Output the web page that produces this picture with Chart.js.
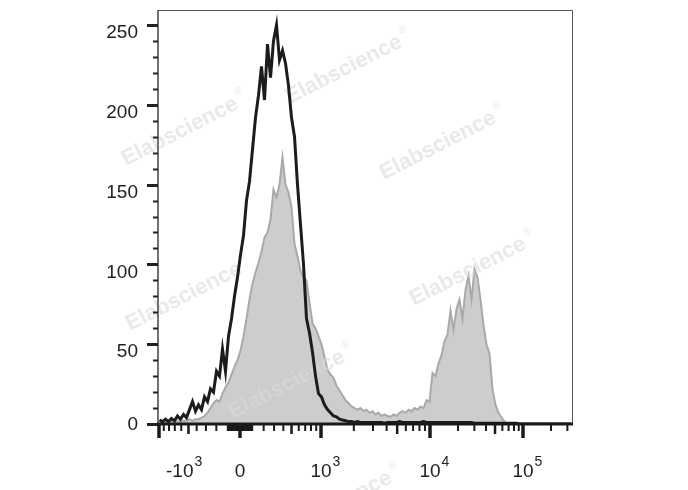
<!DOCTYPE html>
<html>
<head>
<meta charset="utf-8">
<script src="https://cdn.jsdelivr.net/npm/chart.js@4.4.1/dist/chart.umd.min.js"></script>
<style>
    html, body { margin: 0; padding: 0; background: #ffffff; }
    canvas { display: block; }
</style>
</head>
<body>
<canvas id="histogram" width="688" height="490"></canvas>
<script>
// Histogram bins: each bin is 3 display channels wide, channel 0 = left edge of the plot
const binWidth = 3;

// Unstained / isotype control (black outline)
const controlCounts = [
    2.5, 1.5, 3, 1.5, 3.5, 2, 5, 3, 6, 4,
    9, 14, 8, 12, 9, 17, 14, 22, 20, 33,
    30, 47, 33, 55, 66, 80, 92, 106, 118, 140,
    152, 172, 192, 206, 224, 203, 238, 217, 240, 250,
    228, 234, 226, 212, 192, 180, 150, 125, 100, 66,
    57, 45, 30, 19, 17, 12, 9, 7, 5, 4.5,
    3, 2.5, 2, 1.5, 1.5, 1, 1.5, 1, 1, 1,
    1, 1, 1, 1, 1, 0.5, 1, 1, 1, 1,
    1.5, 1, 1, 1, 1, 1, 1, 1, 1.5, 1,
    1, 1, 1, 1, 1, 1, 1, 1, 1, 1,
    1, 1, 1, 1, 1, 0.5, 0.5, 0.5, 0.5, 0.5,
    0.5, 0.5, 0.5, 0.5, 0.5, 0.5, 0.5, 0.5, 0.5, 0.5,
    0, 0, 0, 0, 0, 0, 0, 0, 0, 0,
    0, 0, 0, 0, 0, 0, 0, 0
];

// Stained sample (grey filled)
const stainedCounts = [
    1, 0.5, 1, 1, 2, 1, 2, 1, 2, 2,
    3, 2, 3, 3, 4, 5, 7, 10, 13, 15,
    14, 19, 23, 26, 31, 36, 40, 46, 55, 66,
    78, 88, 95, 101, 108, 117, 120, 128, 147, 142,
    150, 167, 150, 145, 136, 113, 105, 96, 92, 90,
    76, 63, 60, 55, 50, 42, 34, 31, 29, 24,
    21, 18, 15, 13, 11, 10, 9, 10, 8, 9,
    7, 8, 6, 7, 5, 6, 5, 4.5, 6, 5,
    7, 8, 7, 9, 8, 10, 9, 11, 10, 15,
    14, 32, 30, 38, 43, 52, 56, 71, 59, 72,
    78, 66, 84, 93, 78, 97, 92, 78, 62, 50,
    44, 22, 12, 7, 4, 1.5, 0, 0, 0, 0,
    0, 0, 0, 0, 0, 0, 0, 0, 0, 0,
    0, 0, 0, 0, 0, 0, 0, 0
];

// Axis ticks
const yTickLabels = [0, 50, 100, 150, 200, 250];
const xMajorValues = [-1000, 0, 1000, 10000, 100000];
const xTickLabels = [
    { base: '-10', exp: '3' },
    { base: '0', exp: '' },
    { base: '10', exp: '3' },
    { base: '10', exp: '4' },
    { base: '10', exp: '5' }
];

const FONT = '"Liberation Sans", Arial, sans-serif';

// Biexponential-like display transform: fluorescence value -> display channel
function toChannel(v) {
    const a = Math.abs(v);
    let d;
    if (a <= 1000) {
        d = 81 * Math.asinh(a / 400) / Math.asinh(1000 / 400);
    } else if (a <= 10000) {
        d = 81 + 109 * Math.log10(a / 1000);
    } else {
        d = 190 + 93 * Math.log10(a / 10000);
    }
    return 82 + (v < 0 ? -d : d);
}

// minor tick values for the x axis (sub-decades), 5x marks drawn a bit longer
function buildMinorTicks() {
    const ticks = [];
    for (let k = 1; k <= 9; k++) {
        ticks.push({ v: -k * 100, mid: k === 5 });
        ticks.push({ v: k * 100, mid: k === 5 });
        ticks.push({ v: -k * 10, mid: false });
        ticks.push({ v: k * 10, mid: false });
    }
    for (let k = 2; k <= 9; k++) {
        ticks.push({ v: k * 1000, mid: k === 5 });
        ticks.push({ v: k * 10000, mid: k === 5 });
    }
    ticks.push({ v: 200000, mid: false });
    ticks.push({ v: 300000, mid: false });
    return ticks;
}

function toPoints(counts) {
    return counts.map((c, i) => ({ x: i * binWidth + binWidth / 2, y: c }));
}

// Faint vendor watermark, drawn over the grey fill but under the black outline
const watermarkSpots = [
    [126, 166], [290, 104], [384, 180], [414, 306],
    [130, 331], [233, 419], [280, 540]
];

const watermarkPlugin = {
    id: 'watermark',
    afterDatasetDraw(chart, args) {
        if (args.index !== 1) return;
        const ctx = chart.ctx;
        ctx.save();
        ctx.fillStyle = 'rgba(218, 218, 218, 0.6)';
        watermarkSpots.forEach(([px, py]) => {
            ctx.save();
            ctx.translate(px, py);
            ctx.rotate(-27 * Math.PI / 180);
            ctx.font = 'bold 22px ' + FONT;
            ctx.textAlign = 'left';
            ctx.textBaseline = 'alphabetic';
            ctx.fillText('Elabscience', 0, 0);
            const w = ctx.measureText('Elabscience').width;
            ctx.font = '11px ' + FONT;
            ctx.fillText('\u00AE', w + 3, -12);
            ctx.restore();
        });
        ctx.restore();
    }
};

// Frame, ticks and labels in the FlowJo look
const axesPlugin = {
    id: 'flowAxes',
    afterDraw(chart) {
        const { ctx, chartArea: area, scales: { x, y } } = chart;
        ctx.save();

        // thin frame on top and right
        ctx.strokeStyle = '#555555';
        ctx.lineWidth = 1;
        ctx.beginPath();
        ctx.moveTo(area.left, area.top + 0.5);
        ctx.lineTo(area.right + 0.5, area.top + 0.5);
        ctx.lineTo(area.right + 0.5, area.bottom);
        ctx.stroke();

        // left axis line
        ctx.strokeStyle = '#444444';
        ctx.lineWidth = 1.5;
        ctx.beginPath();
        ctx.moveTo(area.left, area.top);
        ctx.lineTo(area.left, area.bottom);
        ctx.stroke();

        // y ticks, every 10 counts, labelled every 50
        ctx.strokeStyle = '#222222';
        for (let v = 0; v <= 250; v += 10) {
            const py = Math.round(y.getPixelForValue(v)) + 0.5;
            const major = v % 50 === 0;
            ctx.lineWidth = major ? 3 : 2;
            ctx.beginPath();
            ctx.moveTo(area.left - (major ? 11 : 5), py);
            ctx.lineTo(area.left, py);
            ctx.stroke();
        }
        ctx.fillStyle = '#222222';
        ctx.font = '19px ' + FONT;
        ctx.textAlign = 'right';
        ctx.textBaseline = 'middle';
        yTickLabels.forEach(v => {
            const py = Math.min(y.getPixelForValue(v) + 8, area.bottom + 1);
            ctx.fillText(String(v), area.left - 20, py);
        });

        // bottom axis line
        ctx.strokeStyle = '#1a1a1a';
        ctx.lineWidth = 3;
        ctx.beginPath();
        ctx.moveTo(area.left - 1, area.bottom);
        ctx.lineTo(area.right + 1, area.bottom);
        ctx.stroke();

        // x ticks
        const tickTop = area.bottom + 1;
        buildMinorTicks().forEach(t => {
            const px = x.getPixelForValue(toChannel(t.v));
            if (px < area.left - 1 || px > area.right + 1) return;
            ctx.lineWidth = t.mid ? 2.5 : 2;
            ctx.beginPath();
            ctx.moveTo(px, tickTop);
            ctx.lineTo(px, tickTop + (t.mid ? 9 : 6));
            ctx.stroke();
        });
        xMajorValues.forEach(v => {
            const px = x.getPixelForValue(toChannel(v));
            ctx.lineWidth = 3.5;
            ctx.beginPath();
            ctx.moveTo(px, tickTop);
            ctx.lineTo(px, tickTop + 13);
            ctx.stroke();
        });

        // x labels with superscript exponents
        ctx.textAlign = 'left';
        ctx.textBaseline = 'alphabetic';
        const baseLine = area.bottom + 53;
        xMajorValues.forEach((v, i) => {
            const lab = xTickLabels[i];
            const px = x.getPixelForValue(toChannel(v));
            ctx.font = '19px ' + FONT;
            const bw = ctx.measureText(lab.base).width;
            let left = Math.max(px - bw / 2, area.left + 8);
            ctx.fillText(lab.base, left, baseLine);
            if (lab.exp) {
                ctx.font = '14px ' + FONT;
                ctx.fillText(lab.exp, left + bw + 1, baseLine - 11);
            }
        });

        ctx.restore();
    }
};

document.addEventListener('DOMContentLoaded', () => {
    const ctx = document.getElementById('histogram').getContext('2d');

    new Chart(ctx, {
        type: 'line',
        data: {
            datasets: [
                {
                    label: 'Control',
                    data: toPoints(controlCounts),
                    borderColor: '#1c1c1c',
                    borderWidth: 3,
                    fill: false,
                    pointRadius: 0,
                    tension: 0,
                    order: 0
                },
                {
                    label: 'Stained',
                    data: toPoints(stainedCounts),
                    borderColor: '#a9a9a9',
                    backgroundColor: '#cdcdcd',
                    borderWidth: 2,
                    fill: 'origin',
                    pointRadius: 0,
                    tension: 0,
                    order: 1
                }
            ]
        },
        options: {
            responsive: false,
            animation: false,
            devicePixelRatio: 1,
            layout: { padding: { left: 158, right: 116, top: 10, bottom: 66 } },
            scales: {
                x: { type: 'linear', min: 0, max: 414, display: false },
                y: { min: 0, max: 259.4, display: false }
            },
            plugins: {
                legend: { display: false },
                tooltip: { enabled: false }
            }
        },
        plugins: [watermarkPlugin, axesPlugin]
    });
});
</script>
</body>
</html>
